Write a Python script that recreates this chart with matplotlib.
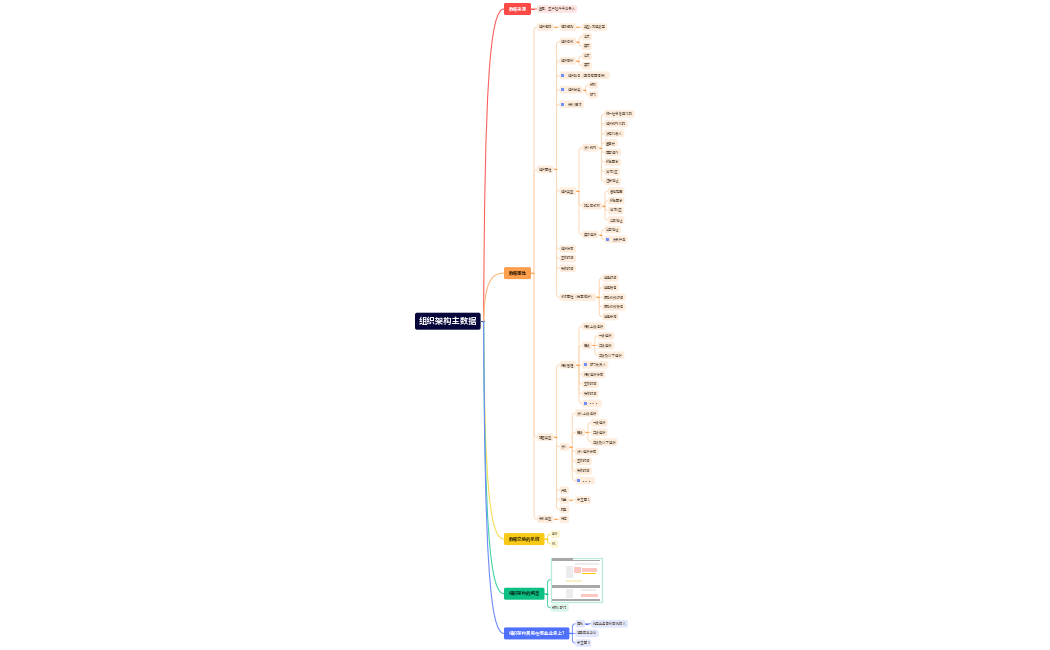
import matplotlib
matplotlib.use("Agg")
import matplotlib.pyplot as plt
from matplotlib.patches import FancyBboxPatch, PathPatch, Rectangle
from matplotlib.path import Path

plt.rcParams['font.family'] = ['Noto Sans CJK SC', 'DejaVu Sans']

# "@" in front of a label means the node carries a small blue icon
IMAGE_NODE = "<image>"

root_label = "组织架构主数据"
source_leaves = ["直属、生产控件平台录入"]
name_langs = ["中文", "英文"]
org_kinds = ["机构", "部门"]
legal_fields = ["统一社会信用代码", "组织机构代码", "法定代表人", "董事长", "是否境外", "所在国家", "省/市/区", "注册地址"]
nonlegal_fields = ["营销范围", "所在国家", "省/市/区", "公司地址"]
actual_fields = ["公司地址", "@负责产品"]
time_fields = ["组织状态", "生效时间", "失效时间"]
system_fields = ["创建时间", "创建账号", "最后修改时间", "最后修改账号", "创建来源"]
levels = ["一级组织", "二级组织", "三级及以下组织"]
exchange_systems = ["AKB", "MC"]


def node(label, children=()):
    return (label, [c if isinstance(c, tuple) else (c, []) for c in children])


org_attrs = node("组织属性", [
    node("组织名称", name_langs),
    node("组织简称", name_langs),
    "@组织别名（面向有国情使）",
    node("@组织分类", org_kinds),
    "@关系/层次",
    node("组织类型", [
        node("法人机构", legal_fields),
        node("非公司机构", nonlegal_fields),
        node("实际组织", actual_fields),
    ]),
    *time_fields,
    node("系统属性（无需维护）", system_fields),
])
view_types = node("视图类型", [
    node("行政管理", [
        "行政上级组织", node("层级", levels), "@部门负责人",
        "行政组织状态", "生效时间", "失效时间", "@。。。",
    ]),
    node("法人", [
        "法人上级组织", node("层级", levels),
        "法人组织状态", "生效时间", "失效时间", "@。。。",
    ]),
    "产品",
    node("销售", ["子主题 1"]),
    "财务",
])
branches = [
    node("数据来源", source_leaves),
    node("数据属性", [
        node("组织编码", [node("编码规则", ["类型+流程数字"])]),
        org_attrs,
        view_types,
        node("关系模型", ["岗位"]),
    ]),
    node("数据交换的系统", exchange_systems),
    node("组织架构的概念", [IMAGE_NODE, "机构+部门"]),
    node("组织架构费用在哪些业务上?", [
        node("审批", ["判定业务审核审批的人"]),
        "选择成本中心",
        "子主题 3",
    ]),
]
branch_colors = ["#fb4a46", "#fd9f4c", "#f8ca17", "#0cc084", "#4f70fb"]
branch_lines = ["#f9625e", "#fdb77c", "#f9dc58", "#45d3a4", "#6f8bf9"]
branch_tints = ["#fde3e2", "#feeddd", "#fdf6d3", "#daf6ec", "#e0e6fe"]
branch_text = ["white", "#3a2206", "#3a2e02", "#06301f", "white"]
branch_gaps = [8.4, 5.4, 9.0, 6.4]

# thumbnail content inside the image node: x0, x1, y0, y1 in 0-1 of the image box
thumb_gray = [(0.02, 0.45, 0.015, 0.05), (0.02, 0.98, 0.06, 0.072), (0.02, 0.98, 0.62, 0.69),
              (0.02, 0.98, 0.94, 0.975), (0.02, 0.98, 0.50, 0.508)]
thumb_text = [(0.30, 0.45, 0.18, 0.45), (0.30, 0.45, 0.72, 0.92), (0.48, 0.95, 0.13, 0.17), (0.60, 0.90, 0.72, 0.76)]
thumb_red = [(0.46, 0.60, 0.20, 0.34), (0.62, 0.92, 0.24, 0.33), (0.60, 0.94, 0.82, 0.90)]
thumb_yellow = [(0.62, 0.90, 0.345, 0.375)]
thumb_cream = [(0.30, 0.62, 0.50, 0.55)]

LEAF_STEP = 9.65
BOX_H = 7.6
LEVEL_GAP = 6.0
IMAGE_W, IMAGE_H = 51, 44
SMALL_FONT = 2.4
BRANCH_FONT = 3.25

fig = plt.figure(figsize=(10.5, 6.5), dpi=100)
ax = fig.add_axes([0, 0, 1, 1])
ax.set_xlim(0, 1050)
ax.set_ylim(650, 0)
ax.axis("off")
renderer = fig.canvas.get_renderer()


def text_width(label, size, weight="normal"):
    t = ax.text(0, 0, label, fontsize=size, fontweight=weight)
    w = t.get_window_extent(renderer).width
    t.remove()
    return w


def place_y(item, cursor):
    """Give every node a y: leaves go down in order, parents sit mid-way over their children."""
    label, children = item
    if label == IMAGE_NODE:
        y = cursor - LEAF_STEP / 2 + IMAGE_H / 2
        return {"label": label, "y": y, "kids": []}, y + IMAGE_H / 2 + 6
    if not children:
        return {"label": label, "y": cursor, "kids": []}, cursor + LEAF_STEP
    kids = []
    for child in children:
        placed, cursor = place_y(child, cursor)
        kids.append(placed)
    return {"label": label, "y": (kids[0]["y"] + kids[-1]["y"]) / 2, "kids": kids}, cursor


def elbow(px, py, tx, cx, cy, color, lw):
    """Line from the trunk at tx down/up to a child, with a small round corner."""
    r = min(3.0, abs(cy - py))
    s = 1 if cy > py else -1
    verts = [(px, py), (tx, py), (tx, cy - s * r), (tx, cy), (tx + r, cy), (cx, cy)]
    codes = [Path.MOVETO, Path.LINETO, Path.LINETO, Path.CURVE3, Path.CURVE3, Path.LINETO]
    ax.add_patch(PathPatch(Path(verts, codes), fc="none", ec=color, lw=lw, capstyle="round", zorder=1))


def draw_thumb(x, y):
    top = y - IMAGE_H / 2
    ax.add_patch(Rectangle((x, top), IMAGE_W, IMAGE_H, fc="white", ec="#b4ecd8", lw=0.9, zorder=2))
    groups = [(thumb_gray, "#a8a8a8"), (thumb_text, "#ececec"), (thumb_red, "#fcc6c1"),
              (thumb_yellow, "#f7c600"), (thumb_cream, "#f8eec8")]
    for rects, color in groups:
        for x0, x1, y0, y1 in rects:
            ax.add_patch(Rectangle((x + x0 * IMAGE_W, top + y0 * IMAGE_H), (x1 - x0) * IMAGE_W,
                                   (y1 - y0) * IMAGE_H, fc=color, ec="none", zorder=3))


def draw_node(item, x, tint, line, stub):
    """Draw one small node and everything under it, returns nothing."""
    label = item["label"]
    y = item["y"]
    if label == IMAGE_NODE:
        draw_thumb(x, y)
        return
    has_icon = label.startswith("@")
    name = label[1:] if has_icon else label
    icon_w = 6.5 if has_icon else 0
    width = text_width(name, SMALL_FONT) + 3.0 + icon_w
    ax.add_patch(FancyBboxPatch((x + 1, y - BOX_H / 2 + 1), width - 2, BOX_H - 2,
                                boxstyle="round,pad=1,rounding_size=2", fc=tint, ec="none", zorder=2))
    if has_icon:
        ax.add_patch(Rectangle((x + 1.8, y - 1.5), 3, 3, fc="#6f8ff8", ec="none", zorder=3))
    ax.text(x + 1.5 + icon_w, y, name, fontsize=SMALL_FONT, color="#5a4a3a", va="center", ha="left", zorder=4)
    draw_children(item, x + width, tint, line, stub)


def draw_children(item, right, tint, line, stub):
    kids = item["kids"]
    if not kids:
        return
    child_x = right + LEVEL_GAP
    trunk = right + LEVEL_GAP / 2
    for kid in kids:
        elbow(right, item["y"], trunk, child_x, kid["y"], line, 0.7)
    ax.plot([right, trunk], [item["y"], item["y"]], color=stub, lw=0.8, zorder=1, solid_capstyle="butt")
    for kid in kids:
        draw_node(kid, child_x, tint, line, stub)


# vertical layout of all the branches
placed = []
cursor = 9.0
for i, branch in enumerate(branches):
    p, cursor = place_y(branch, cursor)
    placed.append(p)
    if i < len(branch_gaps):
        cursor += branch_gaps[i]

root_y = (placed[0]["y"] + placed[-1]["y"]) / 2
ROOT_X, BRANCH_X = 415, 504
root_w = text_width(root_label, 6.0, "bold") + 7
ax.add_patch(FancyBboxPatch((ROOT_X + 2, root_y - 6.5), root_w - 4, 13,
                            boxstyle="round,pad=2,rounding_size=2", fc="#07063a", ec="none", zorder=5))
ax.text(ROOT_X + root_w / 2, root_y, root_label, fontsize=6.0, fontweight="bold", color="white",
        ha="center", va="center", zorder=6)
hub_x = ROOT_X + root_w + 3
ax.plot([ROOT_X + root_w, hub_x], [root_y, root_y], color="#3f55b5", lw=0.8, zorder=1)

for i, p in enumerate(placed):
    w = text_width(p["label"], BRANCH_FONT, "bold") + 9
    y = p["y"]
    verts = [(hub_x, root_y), (hub_x + 1, y + (root_y - y) * 0.25), (hub_x + 6, y), (BRANCH_X, y)]
    ax.add_patch(PathPatch(Path(verts, [Path.MOVETO, Path.CURVE4, Path.CURVE4, Path.CURVE4]),
                           fc="none", ec=branch_lines[i], lw=0.8, zorder=1))
    ax.add_patch(FancyBboxPatch((BRANCH_X + 1.5, y - 4.5), w - 3, 9, boxstyle="round,pad=1.5,rounding_size=1.5",
                                fc=branch_colors[i], ec="none", zorder=3))
    ax.text(BRANCH_X + w / 2, y, p["label"], fontsize=BRANCH_FONT, fontweight="bold", color=branch_text[i],
            ha="center", va="center", zorder=4)
    draw_children(p, BRANCH_X + w, branch_tints[i], branch_lines[i] if i != 1 else "#fdd8b6", branch_colors[i])

fig.savefig("out.png", dpi=100)
